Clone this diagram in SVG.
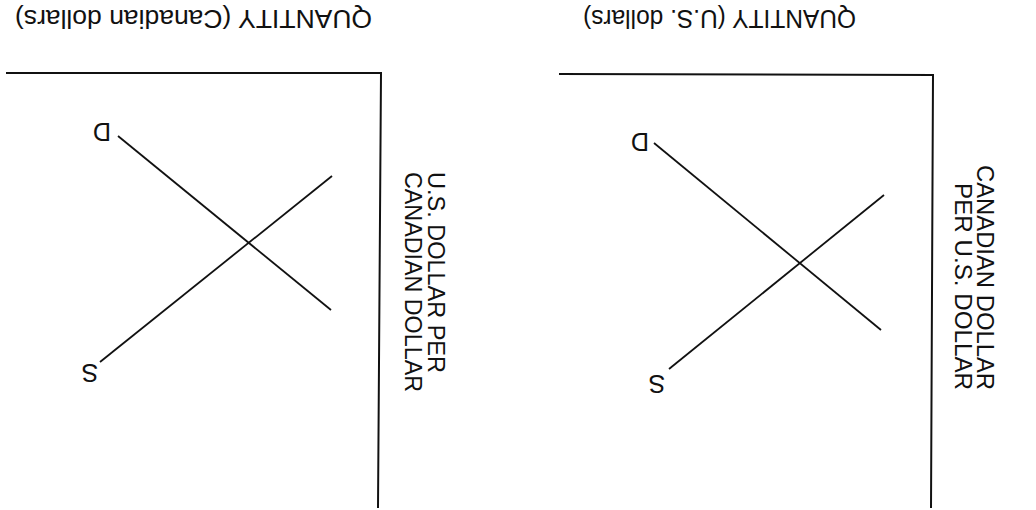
<svg xmlns="http://www.w3.org/2000/svg" width="1036" height="510" viewBox="0 0 1036 510">
<style>
  text { font-family: "Liberation Sans", Arial, sans-serif; fill: #111; }
  .ttl { font-size: 26px; }
  .ax { font-size: 24px; }
  .lbl { font-size: 25px; }
  .axis { fill: none; stroke: #111; stroke-width: 2; }
  .curve { fill: none; stroke: #111; stroke-width: 1.8; }
</style>
<rect width="1036" height="510" fill="#fff"/>
<g id="left-chart">
  <polyline class="axis" points="6,73 381,73 378,508"/>
  <text class="ttl" text-anchor="middle" textLength="357" lengthAdjust="spacingAndGlyphs" transform="translate(193.5,10) rotate(180)">QUANTITY (Canadian dollars)</text>
  <text class="ax" textLength="201" lengthAdjust="spacingAndGlyphs" transform="translate(428,172) rotate(90)">U.S. DOLLAR PER</text>
  <text class="ax" textLength="220" lengthAdjust="spacingAndGlyphs" transform="translate(405,172) rotate(90)">CANADIAN DOLLAR</text>
  <line class="curve" x1="118" y1="136" x2="331" y2="310"/>
  <line class="curve" x1="100" y1="362" x2="332" y2="176"/>
  <text class="lbl" text-anchor="middle" transform="translate(102,123) rotate(180)">D</text>
  <text class="lbl" text-anchor="middle" transform="translate(90,364) rotate(180)">S</text>
</g>
<g id="right-chart">
  <polyline class="axis" points="559,74 933,75 931,508"/>
  <text class="ttl" text-anchor="middle" textLength="273" lengthAdjust="spacingAndGlyphs" transform="translate(719.5,10) rotate(180)">QUANTITY (U.S. dollars)</text>
  <text class="ax" textLength="225" lengthAdjust="spacingAndGlyphs" transform="translate(977,165) rotate(90)">CANADIAN DOLLAR</text>
  <text class="ax" text-anchor="end" textLength="207" lengthAdjust="spacingAndGlyphs" transform="translate(955,390) rotate(90)">PER U.S. DOLLAR</text>
  <line class="curve" x1="654" y1="143" x2="881" y2="330"/>
  <line class="curve" x1="669" y1="369" x2="884" y2="195"/>
  <text class="lbl" text-anchor="middle" transform="translate(640,133) rotate(180)">D</text>
  <text class="lbl" text-anchor="middle" transform="translate(657,375) rotate(180)">S</text>
</g>
</svg>
